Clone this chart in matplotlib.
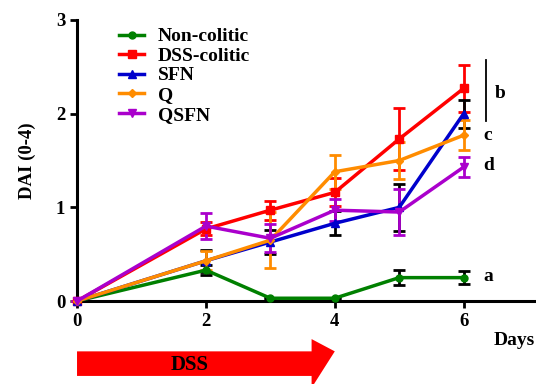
import matplotlib
matplotlib.use('Agg')
import matplotlib.pyplot as plt
from matplotlib.patches import Polygon
from matplotlib.transforms import blended_transform_factory

# data
days = [0, 2, 3, 4, 5, 6]
groups = ['Non-colitic', 'DSS-colitic', 'SFN', 'Q', 'QSFN']
non_colitic = [0, 0.33, 0.03, 0.03, 0.25, 0.25]
non_colitic_err = [0, 0.05, 0, 0, 0.08, 0.07]
dss_colitic = [0, 0.77, 0.97, 1.16, 1.73, 2.27]
dss_colitic_err = [0, 0.07, 0.10, 0.15, 0.33, 0.25]
sfn = [0, 0.43, 0.63, 0.83, 1.00, 2.00]
sfn_err = [0, 0.12, 0.13, 0.13, 0.25, 0.15]
q = [0, 0.43, 0.65, 1.38, 1.50, 1.77]
q_err = [0, 0.10, 0.30, 0.18, 0.20, 0.16]
qsfn = [0, 0.80, 0.67, 0.97, 0.95, 1.43]
qsfn_err = [0, 0.14, 0.15, 0.12, 0.25, 0.11]
sig_letters = ['a', 'b', 'c', 'd']
dss_days = (0, 4)

plt.rcParams['font.family'] = ['Liberation Serif', 'DejaVu Serif']
plt.rcParams['font.weight'] = 'bold'

fig = plt.figure(figsize=(5.36, 3.84), dpi=100)
ax = fig.add_axes([0.1437, 0.216, 0.856, 0.732])

series = [
    (non_colitic, non_colitic_err, 'green', 'black', 'o', 5),
    (dss_colitic, dss_colitic_err, 'red', 'red', 's', 6),
    (sfn, sfn_err, '#0000cc', 'black', '^', 6),
    (q, q_err, 'darkorange', 'darkorange', 'D', 4),
    (qsfn, qsfn_err, '#aa00cc', '#aa00cc', 'v', 6),
]
for name, (vals, errs, col, ecol, mk, ms) in zip(groups, series):
    ax.errorbar(days, vals, yerr=errs, fmt='none', ecolor=ecol, elinewidth=2,
                capsize=4, capthick=2, clip_on=False, zorder=2)
    ax.plot(days, vals, color=col, marker=mk, markersize=ms, linewidth=2.5,
            label=name, clip_on=False, zorder=3)

ax.set_xlim(0, 7.12)
ax.set_ylim(0, 3)
ax.set_xticks([0, 2, 4, 6])
ax.set_yticks([0, 1, 2, 3])
for s in ['top', 'right']:
    ax.spines[s].set_visible(False)
for s in ['left', 'bottom']:
    ax.spines[s].set_linewidth(2.2)
ax.tick_params(width=2, length=5, labelsize=13.5)
ax.set_ylabel('DAI (0-4)', fontsize=13.5, fontweight='bold', labelpad=14)
fig.text(0.998, 0.112, 'Days', fontsize=14, fontweight='bold', ha='right', va='center')

# significance letters
ax.text(6.48, 2.22, sig_letters[1], fontsize=14, fontweight='bold', va='center')
ax.text(6.3, 1.77, sig_letters[2], fontsize=14, fontweight='bold', va='center')
ax.text(6.3, 1.45, sig_letters[3], fontsize=14, fontweight='bold', va='center')
ax.text(6.3, 0.26, sig_letters[0], fontsize=14, fontweight='bold', va='center')
ax.plot([6.34, 6.34], [1.92, 2.57], color='black', linewidth=1.3, clip_on=False)

leg = ax.legend(loc='upper left', bbox_to_anchor=(0.075, 1.0), frameon=False,
                fontsize=14, handlelength=1.3, labelspacing=0.1, borderaxespad=0,
                handletextpad=0.7)
for t in leg.get_texts():
    t.set_fontweight('bold')

# DSS arrow under the axis
tr = blended_transform_factory(ax.transData, fig.transFigure)
x0, x1 = dss_days
head = x1 - 0.36
arrow = Polygon([(x0, 0.021), (head, 0.021), (head, -0.01), (x1, 0.085),
                 (head, 0.117), (head, 0.085), (x0, 0.085)],
                closed=True, facecolor='red', edgecolor='none', transform=tr,
                clip_on=False)
fig.patches.append(arrow)
fig.text(0.353, 0.05, 'DSS', fontsize=15, fontweight='bold', ha='center', va='center')

fig.savefig('out.png', dpi=100)
